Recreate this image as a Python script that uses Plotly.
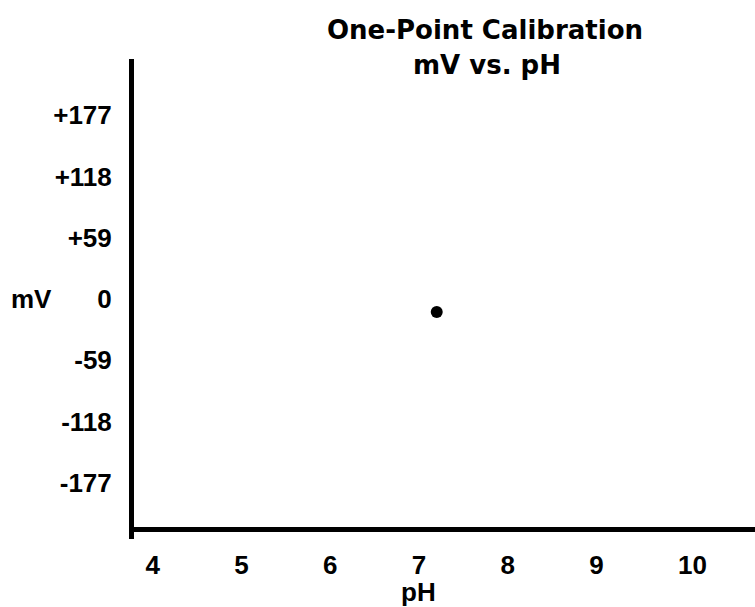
import plotly.graph_objects as go

# Data
ph_values = [7.2]
mv_values = [-12.5]
x_ticks = [4, 5, 6, 7, 8, 9, 10]
x_tick_labels = ["4", "5", "6", "7", "8", "9", "\u00a0\u00a010"]
y_ticks = [177, 118, 59, 0, -59, -118, -177]
y_tick_labels = ["+177", "+118", "+59", "0", "-59", "-118", "-177"]
title_lines = ["One-Point Calibration", "mV vs. pH"]

FONT = "Liberation Sans, Arial, sans-serif"
TFONT = "DejaVu Sans, Liberation Sans, sans-serif"
W, H = 755, 607
L, T, R, B = 134, 59, 0, 68
plot_h = H - T - B
plot_bottom = H - B


def py(pixel_y):
    """pixel row -> paper fraction"""
    return (plot_bottom - pixel_y) / plot_h


fig = go.Figure()
fig.add_trace(go.Scatter(
    x=ph_values, y=mv_values, mode="markers",
    marker=dict(color="black", size=12),
    showlegend=False, hoverinfo="skip",
))

tick_font = dict(family=FONT, size=26, color="black", weight="bold")

fig.update_layout(
    width=W, height=H,
    margin=dict(l=L, r=R, t=T, b=B, pad=0),
    paper_bgcolor="white", plot_bgcolor="white",
    font=dict(family=FONT, color="black", size=25, weight="bold"),
    xaxis=dict(
        range=[3.79, 10.785],
        tickmode="array", tickvals=x_ticks, ticktext=x_tick_labels,
        showgrid=False, zeroline=False,
        showline=True, linecolor="black", linewidth=5,
        ticks="", anchor="free", position=py(528.5),
        tickfont=tick_font,
        ticklabelstandoff=11,
    ),
    yaxis=dict(
        range=[-231, 231],
        tickmode="array", tickvals=y_ticks, ticktext=y_tick_labels,
        showgrid=False, zeroline=False,
        showline=True, linecolor="black", linewidth=5,
        ticks="",
        tickfont=tick_font,
        ticklabelstandoff=12,
    ),
    annotations=[
        dict(text=title_lines[0], xref="paper", x=(485 - L) / (W - L - R),
             xanchor="center", yref="paper", y=py(30), yanchor="middle",
             showarrow=False,
             font=dict(family=TFONT, size=26, color="black", weight="bold")),
        dict(text=title_lines[1], xref="paper", x=(487 - L) / (W - L - R),
             xanchor="center", yref="paper", y=py(65), yanchor="middle",
             showarrow=False,
             font=dict(family=TFONT, size=26, color="black", weight="bold")),
        dict(text="mV", xref="paper", x=0, xanchor="right", xshift=54 - L,
             yref="y", y=0, yanchor="middle", showarrow=False,
             font=tick_font),
        dict(text="pH", xref="x", x=7, xanchor="center",
             yref="paper", y=0, yanchor="top", yshift=-36, showarrow=False,
             font=tick_font),
    ],
)

fig.write_html("out.html", config={"displayModeBar": False},
               post_script="document.body.style.margin='0';")
